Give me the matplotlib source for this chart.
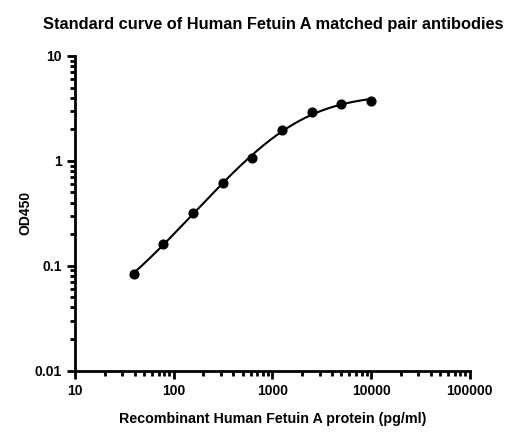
import numpy as np
import matplotlib
matplotlib.use("Agg")
import matplotlib.pyplot as plt
from matplotlib.ticker import LogLocator, FixedLocator, NullFormatter

plt.rcParams['font.family'] = ['Liberation Sans', 'DejaVu Sans']

# standard points
conc = np.array([39.06, 78.125, 156.25, 312.5, 625, 1250, 2500, 5000, 10000])
od450 = np.array([0.084, 0.160, 0.318, 0.610, 1.06, 1.95, 2.92, 3.46, 3.75])

x_ticks = [10, 100, 1000, 10000, 100000]
x_tick_labels = ["10", "100", "1000", "10000", "100000"]
y_ticks = [0.01, 0.1, 1, 10]
y_tick_labels = ["0.01", "0.1", "1", "10"]


def four_pl(x, p):
	a, b, c, d = p
	return d + (a - d) / (1 + (x / c) ** b)


def fit_4pl(x, y, p0, iteration=200):
	# small levenberg-marquardt on log residuals
	p = np.array(p0, dtype=float)
	lam = 1e-3
	def res(p):
		return np.log10(np.clip(four_pl(x, p), 1e-6, None)) - np.log10(y)
	r = res(p)
	for i in range(iteration):
		J = np.zeros((len(x), len(p)))
		for k in range(len(p)):
			dp = np.zeros_like(p)
			dp[k] = 1e-6 * max(abs(p[k]), 1e-3)
			J[:, k] = (res(p + dp) - r) / dp[k]
		A = J.T.dot(J)
		g = J.T.dot(r)
		step = np.linalg.solve(A + lam * np.diag(np.diag(A)), -g)
		p_new = p + step
		r_new = res(p_new)
		if np.sum(r_new ** 2) < np.sum(r ** 2):
			p, r = p_new, r_new
			lam *= 0.3
		else:
			lam *= 10
	return p


params = fit_4pl(conc, od450, [0.0, 1.2, 1000.0, 4.5])
x_fit = np.logspace(np.log10(conc[0]), np.log10(conc[-1]), 300)
y_fit = four_pl(x_fit, params)

fig = plt.figure(figsize=(5.18, 4.37), dpi=100)
ax = fig.add_axes([0.145, 0.152, 0.762, 0.720])

ax.plot(x_fit, y_fit, color="black", lw=1.5)
ax.plot(conc, od450, 'o', color="black", ms=6.3)

ax.set_xscale("log")
ax.set_yscale("log")
ax.set_xlim(10, 100000)
ax.set_ylim(0.01, 10)

ax.xaxis.set_major_locator(FixedLocator(x_ticks))
ax.set_xticklabels(x_tick_labels)
ax.yaxis.set_major_locator(FixedLocator(y_ticks))
ax.set_yticklabels(y_tick_labels)
ax.xaxis.set_minor_locator(LogLocator(base=10, subs=np.arange(2, 10)))
ax.yaxis.set_minor_locator(LogLocator(base=10, subs=np.arange(2, 10)))
ax.xaxis.set_minor_formatter(NullFormatter())
ax.yaxis.set_minor_formatter(NullFormatter())

for side in ["top", "right"]:
	ax.spines[side].set_visible(False)
for side in ["left", "bottom"]:
	ax.spines[side].set_linewidth(2)

ax.tick_params(which="major", length=6, width=2, direction="out", labelsize=10)
ax.tick_params(which="minor", length=3.5, width=2, direction="out")
for lbl in ax.get_xticklabels() + ax.get_yticklabels():
	lbl.set_fontweight("bold")

ax.set_xlabel("Recombinant Human Fetuin A protein (pg/ml)", fontsize=10.3, fontweight="bold", labelpad=10)
ax.set_ylabel("OD450", fontsize=10, fontweight="bold", labelpad=2)
fig.text(0.527, 0.945, "Standard curve of Human Fetuin A matched pair antibodies",
	ha="center", va="center", fontsize=11.8, fontweight="bold")

fig.savefig("out.png", dpi=100)
